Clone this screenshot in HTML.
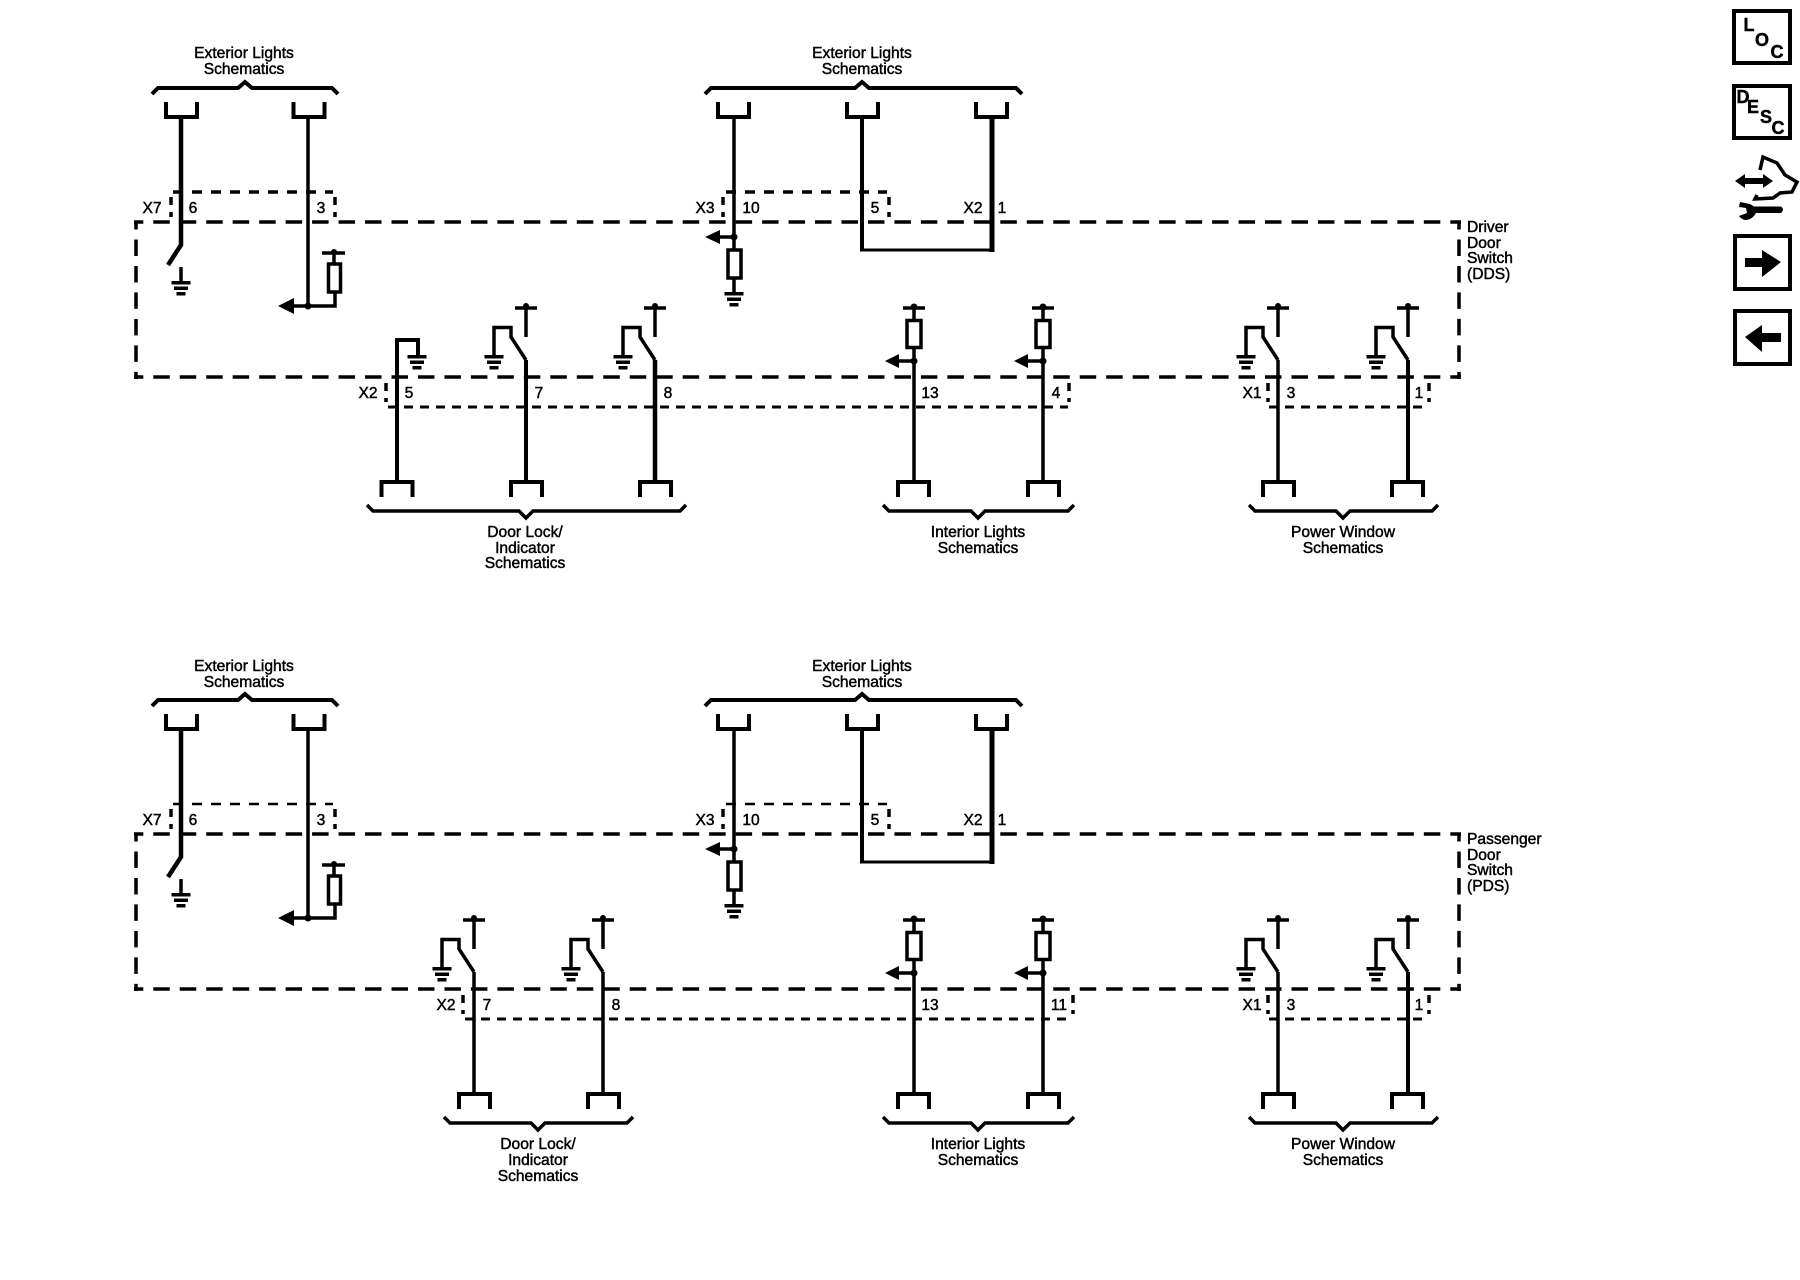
<!DOCTYPE html>
<html><head><meta charset="utf-8"><style>
html,body{margin:0;padding:0;background:#fff;width:1800px;height:1280px;overflow:hidden}
svg{display:block}
text{font-family:"Liberation Sans",Arial,sans-serif;font-size:15.6px;fill:#000;stroke:#000;stroke-width:.45}
.m{text-anchor:middle}
.w,.w *{fill:none;stroke:#000;stroke-linejoin:miter}
.f{fill:#000;stroke:none}
.b{font-weight:bold;font-size:18px}
</style></head><body>
<svg xmlns="http://www.w3.org/2000/svg" width="1800" height="1280" viewBox="0 0 1800 1280">
<defs>
<g id="gnd"><rect class="f" x="-9.500" y="0" width="19" height="3.500"/><rect class="f" x="-7" y="5.500" width="14" height="3.500"/><rect class="f" x="-4.500" y="11" width="9" height="3.500"/></g>
<g id="sw">
<path class="w" stroke-width="3.500" d="M0,360 L-15,337 V327.500 H-32 V356"/>
<path class="w" stroke-width="3.500" d="M0,337 V308"/>
<path class="w" stroke-width="3.500" d="M-11,308 H11"/>
<circle class="f" cx="0" cy="306" r="3"/>
<use href="#gnd" x="-32" y="355"/>
</g>
<g id="rup">
<path class="w" stroke-width="3.500" d="M-11,308 H11 M0,308 V319 M0,349 V361 M0,361 H-16"/>
<rect class="w" x="-7" y="320.500" width="14" height="27" stroke-width="3.500"/>
<circle class="f" cx="0" cy="307" r="3.500"/>
<circle class="f" cx="0" cy="361" r="3.500"/>
<path class="f" d="M-29,361 L-15,354 V368 Z"/>
</g>
<path id="uDown" class="w" stroke-width="4" d="M-15.500,102 V117 H15.500 V102"/>
<path id="uUp" class="w" stroke-width="4" d="M-15.500,497 V482 H15.500 V497"/>
<g id="top">
<path class="w" stroke-width="4" d="M152,94 L158,88 H238 L245,82 L252,88 H332 L338,94"/>
<path class="w" stroke-width="4" d="M705,94 L711,88 H855 L862,82 L869,88 H1016 L1022,94"/>
<use href="#uDown" x="181.500"/><use href="#uDown" x="309"/><use href="#uDown" x="733.500"/><use href="#uDown" x="862.500"/><use href="#uDown" x="991.500"/>
<path class="w" stroke-width="4.500" d="M181,117 V245 L168,265"/>
<path class="w" stroke-width="3.500" d="M181,267 V282"/>
<use href="#gnd" x="181" y="281"/>
<path class="w" stroke-width="3.500" d="M308,117 V306"/>
<path class="w" stroke-width="3.500" d="M292,306 H335 V293"/>
<rect class="w" x="328.500" y="264" width="12" height="28" stroke-width="3.500"/>
<path class="w" stroke-width="3.500" d="M334,264 V253 M322,253 H345"/>
<circle class="f" cx="334" cy="252" r="3"/>
<circle class="f" cx="308" cy="306" r="3.500"/>
<path class="f" d="M278,306 L294,298 V314 Z"/>
<path class="w" stroke-width="3.500" d="M734,117 V250 M734,278 V294 M718,237 H734"/>
<rect class="w" x="728" y="250" width="13" height="28" stroke-width="3.500"/>
<circle class="f" cx="734" cy="237" r="3.500"/>
<path class="f" d="M705,237 L720,230 V244 Z"/>
<use href="#gnd" x="734" y="292"/>
<path class="w" stroke-width="4" d="M862,117 V250"/>
<path class="w" stroke-width="5" d="M992,117 V252"/>
<path class="w" stroke-width="3" d="M860,250 H994"/>
<path class="w" stroke-width="3.500" stroke-dasharray="16.500 9.970" stroke-dashoffset="7.200" d="M134,222 H1461"/>
<path class="w" stroke-width="3.500" stroke-dasharray="16.500 9.970" stroke-dashoffset="7.200" d="M134,377 H1461"/>
<path class="w" stroke-width="3.500" stroke-dasharray="16.500 9.970" stroke-dashoffset="8" d="M136,221 V379"/>
<path class="w" stroke-width="3.500" stroke-dasharray="16.500 9.970" stroke-dashoffset="8" d="M1459,221 V379"/>
</g>
</defs>

<use href="#top"/>
<use href="#top" y="612"/>

<!-- Row 1 connector shells, top -->
<g class="w" stroke-width="3.500" stroke-dasharray="10 9">
<path d="M173,192 H333"/><path d="M726,192 H887"/>
</g>
<g class="w" stroke-width="3.500" stroke-dasharray="8 7">
<path d="M171,197 V217"/><path d="M335,197 V217"/><path d="M723,197 V217"/><path d="M889,197 V217"/>
</g>
<!-- Row 2 connector shells, top -->
<g class="w" stroke-width="2.500" stroke-dasharray="10 9">
<path d="M173,804 H333"/><path d="M726,804 H887"/>
</g>
<g class="w" stroke-width="3.500" stroke-dasharray="8 7">
<path d="M171,809 V829"/><path d="M335,809 V829"/><path d="M723,809 V829"/><path d="M889,809 V829"/>
</g>

<!-- Row 1 lower -->
<g>
<g class="w" stroke-width="3" stroke-dasharray="9 7">
<path d="M388,407 H1068"/><path d="M1269,407 H1428"/>
</g>
<g class="w" stroke-width="3.500" stroke-dasharray="8 7">
<path d="M386,383 V402"/><path d="M1069,383 V402"/><path d="M1268,383 V402"/><path d="M1429,383 V402"/>
</g>
<path class="w" stroke-width="4" d="M397,482 V340 H418 V355"/>
<use href="#gnd" x="417" y="355"/>
<path class="w" stroke-width="4" d="M526,360 V482"/><use href="#sw" x="526"/>
<path class="w" stroke-width="4.500" d="M655,360 V482"/><use href="#sw" x="655"/>
<path class="w" stroke-width="3.500" d="M914,361 V482"/><use href="#rup" x="914"/>
<path class="w" stroke-width="3.500" d="M1043,361 V482"/><use href="#rup" x="1043"/>
<path class="w" stroke-width="3.500" d="M1278,360 V482"/><use href="#sw" x="1278"/>
<path class="w" stroke-width="4" d="M1408,360 V482"/><use href="#sw" x="1408"/>
<use href="#uUp" x="397"/><use href="#uUp" x="526.500"/><use href="#uUp" x="655.500"/><use href="#uUp" x="913.500"/><use href="#uUp" x="1043.500"/><use href="#uUp" x="1278.500"/><use href="#uUp" x="1407.500"/>
<path class="w" stroke-width="3.500" d="M367,505 L373,511 H519 L526,518 L533,511 H680 L686,505"/>
<path class="w" stroke-width="3.500" d="M883,505 L889,511 H971 L978,518 L985,511 H1068 L1074,505"/>
<path class="w" stroke-width="3.500" d="M1249,505 L1255,511 H1336 L1343,518 L1350,511 H1432 L1438,505"/>
</g>

<!-- Row 2 lower -->
<g>
<g class="w" stroke-width="3" stroke-dasharray="9 7">
<path d="M465,1019 H1071"/><path d="M1269,1019 H1428"/>
</g>
<g class="w" stroke-width="3.500" stroke-dasharray="8 7">
<path d="M463,995 V1014"/><path d="M1073,995 V1014"/><path d="M1268,995 V1014"/><path d="M1429,995 V1014"/>
</g>
<g transform="translate(0,612)">
<path class="w" stroke-width="3.500" d="M474,360 V482"/><use href="#sw" x="474"/>
<path class="w" stroke-width="3.500" d="M603,360 V482"/><use href="#sw" x="603"/>
<path class="w" stroke-width="3.500" d="M914,361 V482"/><use href="#rup" x="914"/>
<path class="w" stroke-width="3.500" d="M1043,361 V482"/><use href="#rup" x="1043"/>
<path class="w" stroke-width="3.500" d="M1278,360 V482"/><use href="#sw" x="1278"/>
<path class="w" stroke-width="4" d="M1408,360 V482"/><use href="#sw" x="1408"/>
<use href="#uUp" x="474.500"/><use href="#uUp" x="603.500"/><use href="#uUp" x="913.500"/><use href="#uUp" x="1043.500"/><use href="#uUp" x="1278.500"/><use href="#uUp" x="1407.500"/>
<path class="w" stroke-width="3.500" d="M444,505 L450,511 H531 L538,518 L545,511 H627 L633,505"/>
<path class="w" stroke-width="3.500" d="M883,505 L889,511 H971 L978,518 L985,511 H1068 L1074,505"/>
<path class="w" stroke-width="3.500" d="M1249,505 L1255,511 H1336 L1343,518 L1350,511 H1432 L1438,505"/>
</g>
</g>

<!-- Text row 1 -->
<text class="m" x="244" y="58">Exterior Lights</text><text class="m" x="244" y="74">Schematics</text>
<text class="m" x="862" y="58">Exterior Lights</text><text class="m" x="862" y="74">Schematics</text>
<text class="m" x="152" y="213">X7</text><text class="m" x="193" y="213">6</text><text class="m" x="321" y="213">3</text>
<text class="m" x="705" y="213">X3</text><text class="m" x="751" y="213">10</text><text class="m" x="875" y="213">5</text>
<text class="m" x="973" y="213">X2</text><text class="m" x="1002" y="213">1</text>
<text class="m" x="368" y="398">X2</text><text class="m" x="409" y="398">5</text><text class="m" x="539" y="398">7</text><text class="m" x="668" y="398">8</text>
<text class="m" x="930" y="398">13</text><text class="m" x="1056" y="398">4</text>
<text class="m" x="1252" y="398">X1</text><text class="m" x="1291" y="398">3</text><text class="m" x="1419" y="398">1</text>
<text class="m" x="525" y="537">Door Lock/</text><text class="m" x="525" y="553">Indicator</text><text class="m" x="525" y="568">Schematics</text>
<text class="m" x="978" y="537">Interior Lights</text><text class="m" x="978" y="553">Schematics</text>
<text class="m" x="1343" y="537">Power Window</text><text class="m" x="1343" y="553">Schematics</text>
<text x="1467" y="232">Driver</text><text x="1467" y="248">Door</text><text x="1467" y="263">Switch</text><text x="1467" y="279">(DDS)</text>

<!-- Text row 2 -->
<text class="m" x="244" y="671">Exterior Lights</text><text class="m" x="244" y="687">Schematics</text>
<text class="m" x="862" y="671">Exterior Lights</text><text class="m" x="862" y="687">Schematics</text>
<text class="m" x="152" y="825">X7</text><text class="m" x="193" y="825">6</text><text class="m" x="321" y="825">3</text>
<text class="m" x="705" y="825">X3</text><text class="m" x="751" y="825">10</text><text class="m" x="875" y="825">5</text>
<text class="m" x="973" y="825">X2</text><text class="m" x="1002" y="825">1</text>
<text class="m" x="446" y="1010">X2</text><text class="m" x="487" y="1010">7</text><text class="m" x="616" y="1010">8</text>
<text class="m" x="930" y="1010">13</text><text class="m" x="1059" y="1010">11</text>
<text class="m" x="1252" y="1010">X1</text><text class="m" x="1291" y="1010">3</text><text class="m" x="1419" y="1010">1</text>
<text class="m" x="538" y="1149">Door Lock/</text><text class="m" x="538" y="1165">Indicator</text><text class="m" x="538" y="1181">Schematics</text>
<text class="m" x="978" y="1149">Interior Lights</text><text class="m" x="978" y="1165">Schematics</text>
<text class="m" x="1343" y="1149">Power Window</text><text class="m" x="1343" y="1165">Schematics</text>
<text x="1467" y="844">Passenger</text><text x="1467" y="860">Door</text><text x="1467" y="875">Switch</text><text x="1467" y="891">(PDS)</text>

<!-- Icons -->
<rect class="w" x="1734" y="11" width="56" height="52" stroke-width="4"/>
<text class="m b" x="1749" y="31">L</text>
<text class="m b" x="1762" y="46">O</text>
<text class="m b" x="1777" y="58">C</text>
<rect class="w" x="1734" y="86" width="56" height="52" stroke-width="4"/>
<text class="m b" x="1743" y="103">D</text>
<text class="m b" x="1753" y="113">E</text>
<text class="m b" x="1766" y="123">S</text>
<text class="m b" x="1778" y="134">C</text>
<path class="f" d="M1735,181 L1745,174 V178 H1763 V174 L1773,181 L1763,188 V184 H1745 V188 Z"/>
<path class="w" stroke-width="3.500" d="M1760,170 L1763,157 L1777,163 L1785,175 L1797,182 L1792,192 L1780,193 L1773,198 L1755,199 L1757,195"/>
<path class="f" d="M1740,202 L1750,204 L1754,206.500 H1781 Q1785,209.500 1781,213 H1756 Q1752,220 1745,220 Q1741,219 1739,216 L1747,213 L1746,208 L1739,207 Z"/>
<rect class="w" x="1735" y="236" width="55" height="53" stroke-width="4"/>
<path class="f" d="M1745,258 H1762 V250 L1781,262 L1762,277 V267 H1745 Z"/>
<rect class="w" x="1735" y="311" width="55" height="53" stroke-width="4"/>
<path class="f" d="M1745,337 L1762,325 V333 H1781 V342 H1762 V352 Z"/>
</svg>
</body></html>
